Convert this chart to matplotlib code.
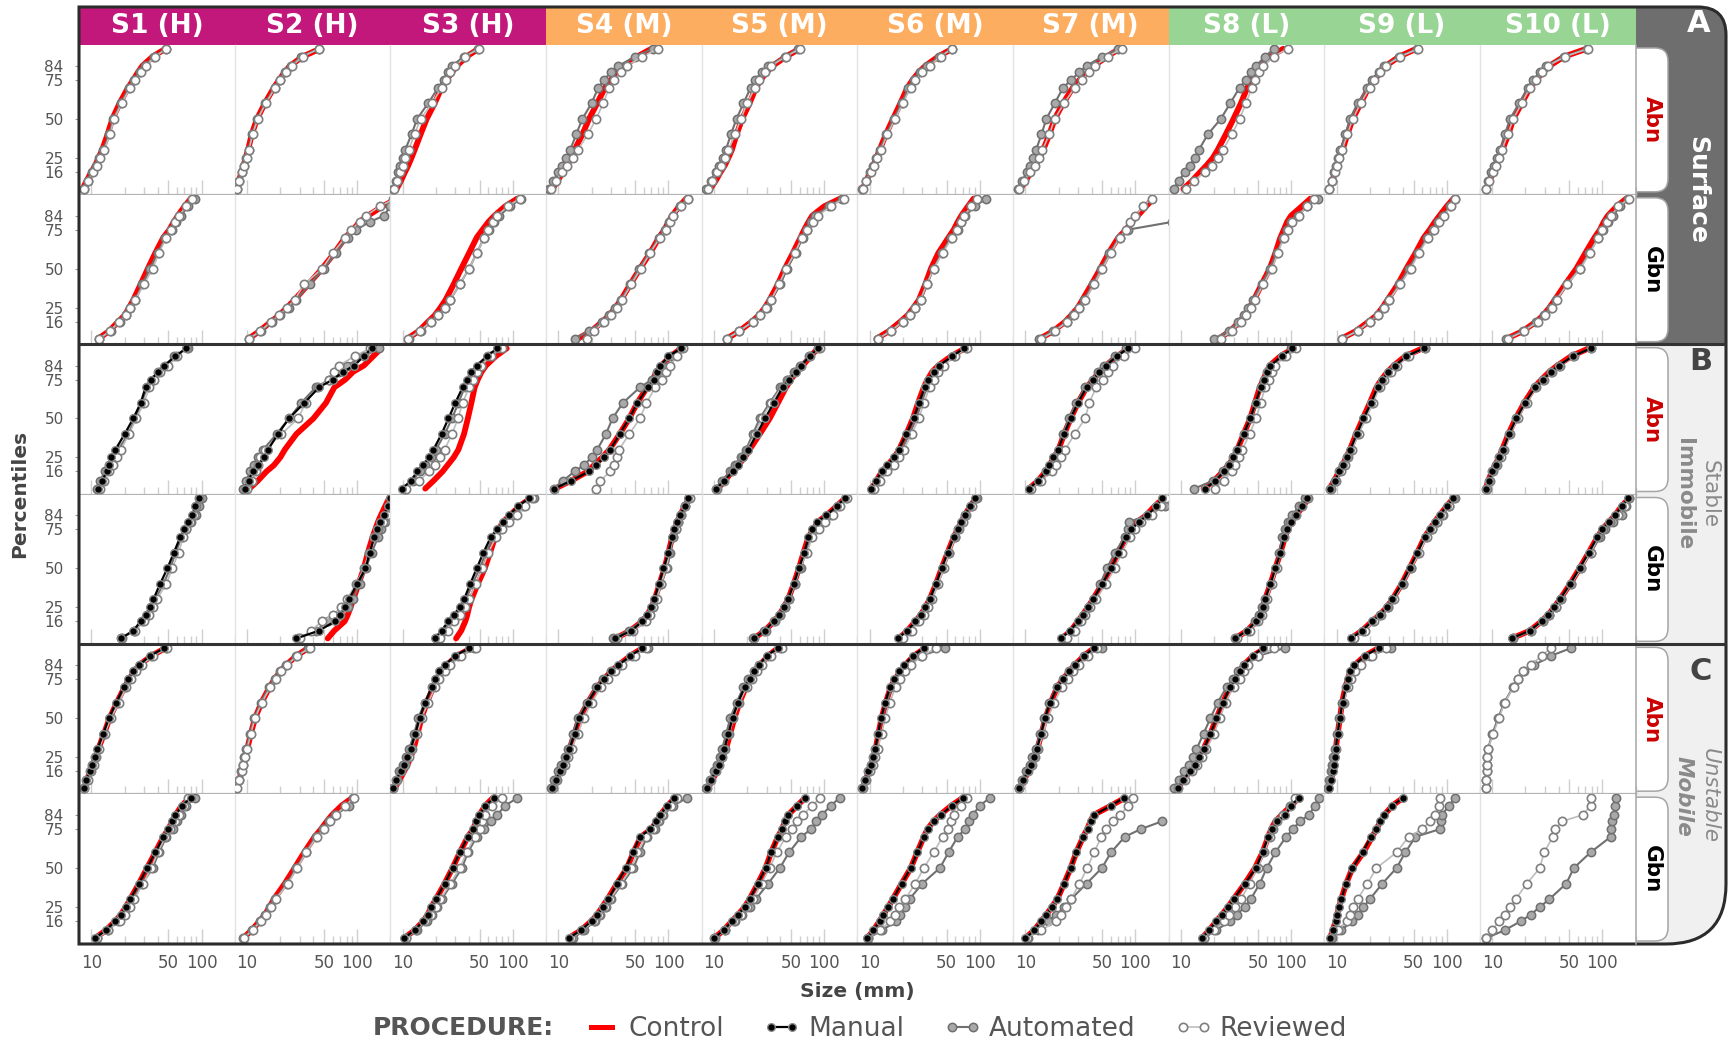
import numpy as np
import matplotlib.pyplot as plt
from matplotlib.patches import Rectangle, FancyBboxPatch, PathPatch
from matplotlib.path import Path
from matplotlib.lines import Line2D

plt.rcParams['font.family'] = ['DejaVu Sans']
nan = np.nan

# ---- data -----------------------------------------------------------------
percentiles = [5, 10, 16, 20, 25, 30, 40, 50, 60, 70, 75, 80, 84, 90, 95]
sites = ['S1 (H)', 'S2 (H)', 'S3 (H)', 'S4 (M)', 'S5 (M)', 'S6 (M)', 'S7 (M)',
         'S8 (L)', 'S9 (L)', 'S10 (L)']
site_colors = ['#c2187b'] * 3 + ['#fdad60'] * 4 + ['#98d494'] * 3
row_labels = ['Abn', 'Gbn', 'Abn', 'Gbn', 'Abn', 'Gbn']

# size (mm) at each percentile, one list per site (S1..S10)
surface_abn_control = [
    [8.3, 9.0, 10.0, 10.8, 11.6, 12.5, 14.0, 15.5, 18.0, 21.5, 24, 26.5, 29, 36, 47],
    [8.0, 8.4, 8.9, 9.3, 9.7, 10.2, 11.0, 12.3, 14.5, 17.5, 19.5, 22.0, 24.5, 32, 46],
    [8.8, 9.6, 10.5, 11.2, 12.0, 12.8, 14.5, 16.5, 19.5, 22.5, 25, 28, 31, 38, 49],
    [8.8, 9.8, 11.0, 12.0, 13.0, 14.0, 16.5, 19.0, 22.5, 26.5, 30, 35, 40, 52, 70],
    [9.2, 10.3, 11.5, 12.5, 13.5, 14.5, 16, 18, 21, 24, 26.5, 30, 34, 45, 60],
    [8.6, 9.3, 10.1, 10.8, 11.5, 12.3, 14.0, 16.3, 19.0, 22.0, 24.5, 28, 32, 42, 56],
    [9.0, 10.0, 11.3, 12.3, 13.5, 14.5, 16.5, 18.5, 22, 27, 31, 37, 42, 55, 72],
    [10.5, 12.5, 15.0, 17.0, 19.5, 21.5, 25.5, 30, 35, 40, 44, 48, 52, 65, 85],
    [8.6, 9.1, 9.7, 10.2, 10.7, 11.3, 12.5, 14.0, 16.5, 19.5, 22, 25, 28, 37, 53],
    [8.8, 9.4, 10.2, 10.8, 11.5, 12.3, 14.0, 15.5, 18.5, 22.0, 25, 29, 33, 45, 72],
]
surface_abn_automated = [
    [8.5, 9.2, 10.2, 11.0, 11.8, 12.8, 14.5, 15.8, 18.5, 22, 24.5, 27.5, 30.5, 37, 48],
    [8.1, 8.5, 9.0, 9.4, 9.8, 10.3, 11.1, 12.4, 14.6, 17.8, 19.8, 22.3, 25, 31, 45],
    [8.2, 8.6, 9.0, 9.5, 10.0, 10.5, 12.0, 13.5, 17.0, 21.0, 23.5, 25.5, 28, 36, 48],
    [8.2, 9.0, 10.0, 10.8, 11.8, 12.8, 14.5, 16.5, 20, 23, 26, 30, 35, 50, 72],
    [8.5, 9.3, 10.3, 11.0, 12.0, 12.8, 14.2, 16, 18.5, 21.5, 23.5, 27, 31, 44, 58],
    [8.5, 9.2, 10.0, 10.7, 11.4, 12.3, 14.2, 16.5, 19.5, 22.5, 25, 28.5, 33, 43, 56],
    [8.6, 9.4, 10.3, 11.0, 11.8, 12.5, 14.0, 15.5, 18.5, 22, 26, 31, 36, 50, 70],
    [8.6, 9.5, 10.9, 12.0, 13.3, 14.5, 17.5, 23, 28, 34, 39, 43, 48, 58, 70],
    [8.5, 9.0, 9.5, 9.9, 10.3, 10.8, 12.0, 13.2, 15.5, 19.0, 21, 24, 27, 37, 54],
    [8.7, 9.2, 9.8, 10.3, 11.0, 11.7, 13.0, 14.5, 17.5, 21.0, 23.5, 27, 31, 45, 72],
]
surface_abn_reviewed = [
    [8.6, 9.3, 10.3, 11.2, 12.0, 13.0, 14.8, 16.0, 18.8, 22.5, 25, 28, 31, 38, 48],
    [8.1, 8.5, 9.0, 9.4, 9.9, 10.4, 11.2, 12.5, 14.8, 18.0, 20.0, 22.5, 25.5, 32, 45],
    [8.3, 8.8, 9.4, 10.0, 10.5, 11.3, 12.8, 14.5, 18.5, 22.5, 24.5, 27, 30, 37, 49],
    [8.5, 9.5, 10.8, 12.0, 13.5, 15, 18.5, 22, 25.5, 29, 32, 37, 42, 58, 80],
    [8.8, 9.6, 10.6, 11.5, 12.5, 13.5, 15.5, 17.5, 20, 23.5, 25.5, 29, 33, 45, 60],
    [8.6, 9.3, 10.2, 10.9, 11.7, 12.6, 14.5, 17.0, 20.0, 23.5, 26, 30, 35, 44, 56],
    [8.8, 9.8, 11.0, 12.2, 13.2, 14.3, 16.5, 18.5, 22.5, 28, 33, 38, 43, 56, 75],
    [11.0, 13.0, 16.5, 19.0, 21.5, 24, 29, 34, 39, 44, 47, 51, 56, 70, 93],
    [8.6, 9.1, 9.7, 10.1, 10.6, 11.2, 12.5, 14.0, 16.5, 20.0, 22, 25, 28, 38, 55],
    [8.8, 9.4, 10.1, 10.7, 11.4, 12.2, 13.8, 15.5, 18.5, 22.0, 25, 28.5, 32, 46, 74],
]

surface_gbn_control = [
    [11.5, 14.5, 17.5, 20.0, 22.0, 24.0, 28.0, 32.5, 38, 45, 51, 56, 61, 70, 80],
    [10.3, 13, 16.5, 19.5, 23, 27, 36, 48, 62, 78, 92, 105, 125, 170, 230],
    [11.0, 14.0, 17.0, 19.5, 22.0, 24.5, 29, 34, 40, 47, 53, 60, 68, 85, 110],
    [15, 20, 25, 29, 33, 37, 45, 55, 68, 82, 92, 100, 108, 125, 145],
    [13, 17, 22, 25.5, 29, 32, 38, 44, 52, 61, 66, 72, 78, 100, 140],
    [11.5, 15, 19, 22, 25, 28, 32, 36, 42, 52, 58, 63, 68, 78, 88],
    [13.5, 18, 23, 26, 30, 33, 40, 48, 57, 70, 82, 92, 105, 125, 145],
    [22, 28, 34, 38, 42, 46, 54, 64, 72, 80, 86, 92, 100, 125, 150],
    [11, 15, 19.5, 23, 26, 29, 36, 43, 52, 62, 70, 78, 86, 100, 115],
    [13.5, 19, 25, 29, 33, 37, 46, 58, 70, 85, 95, 103, 112, 135, 165],
]
surface_gbn_automated = [
    [11.8, 15.0, 18.0, 20.5, 22.5, 25.0, 29.0, 34.0, 40, 47, 54, 59, 65, 75, 88],
    [10.5, 13.5, 17, 20, 24, 28, 37, 50, 64, 82, 98, 130, 175, 200, 210],
    [11.3, 14.5, 18.0, 21.0, 24.0, 27, 33, 40, 47, 55, 61, 67, 75, 95, 118],
    [14, 19, 25, 29, 33, 37, 45, 54, 67, 82, 93, 102, 110, 128, 150],
    [13, 17, 22.5, 26, 30, 33, 40, 46, 55, 64, 70, 76, 82, 110, 145],
    [12, 15.5, 20, 23, 26, 29, 33, 38, 45, 55, 63, 68, 74, 90, 115],
    [13.3, 18, 24, 27, 31, 34, 41, 49, 58, 72, 85, 215, nan, nan, nan],
    [20, 27, 33, 37, 41, 45, 54, 64, 74, 85, 92, 100, 115, 140, 175],
    [11.2, 15.5, 20, 23.5, 27, 30, 37, 45, 55, 66, 75, 84, 92, 108, 120],
    [13.2, 19, 25, 29.5, 34, 38, 48, 62, 76, 92, 102, 112, 125, 145, 170],
]
surface_gbn_reviewed = [
    [11.8, 14.8, 17.8, 20.5, 22.5, 25.0, 30.0, 36.0, 41, 48, 53, 58, 63, 72, 82],
    [10.4, 13.2, 16.5, 19.5, 23, 27, 33, 48, 60, 78, 88, 105, 120, 160, 220],
    [11.2, 14.3, 18.0, 21.0, 24.0, 27, 33, 40, 47, 55, 60, 66, 72, 90, 115],
    [18, 21, 26, 30, 34, 38, 46, 56, 68, 84, 95, 103, 110, 130, 150],
    [13, 17, 22.5, 26, 29.5, 33, 39, 45, 54, 63, 70, 80, 88, 115, 150],
    [12, 15.5, 20, 23, 26, 29, 33, 38, 46, 56, 62, 68, 72, 84, 95],
    [14, 18.5, 24, 27.5, 31, 35, 42, 50, 60, 72, 82, 90, 100, 118, 140],
    [23, 29, 35, 39, 43, 47, 56, 67, 76, 86, 93, 103, 118, 140, 160],
    [11.2, 15.5, 20, 23.5, 27, 30, 38, 47, 56, 68, 76, 85, 94, 110, 118],
    [14, 19.5, 26, 30, 34.5, 38.5, 48, 63, 77, 92, 100, 110, 120, 140, 175],
]

stable_abn_control = [
    None,
    [10.5, 12.5, 15, 17.5, 20, 22, 28, 40, 52, 62, 78, 92, 115, 140, 165],
    [16, 19, 23, 25.5, 29, 32, 36, 39, 42, 45, 48, 52, 57, 70, 88],
    [9.3, 13, 18.5, 21, 25, 29, 36, 44, 52, 64, 72, 78, 86, 105, 130],
    [10.8, 12.5, 14.6, 16.5, 19, 21, 26, 32, 38, 45, 50, 56, 64, 75, 88],
    [10.4, 11.5, 12.9, 14.5, 16.7, 18.5, 21.5, 24.7, 27.5, 31, 33.5, 37, 42, 55, 73],
    [10.8, 13, 15.3, 16.5, 18.2, 20, 22.5, 25.8, 30, 36, 41.4, 47, 54, 68, 87],
    [16, 20, 24, 27, 30, 32.5, 37, 42.5, 47, 52, 56, 60, 64, 80, 105],
    [8.6, 9.5, 10.5, 11.3, 12.2, 13.2, 15, 17.3, 20, 23, 25.5, 29, 33, 42, 60],
    [8.7, 9.2, 9.9, 10.6, 11.5, 12.3, 14, 16.3, 19.5, 24, 28, 33, 39, 52, 75],
]
stable_abn_manual = [
    [11.5, 12.5, 13.8, 14.5, 15.0, 16.5, 20, 24, 28, 31, 35, 40, 46, 58, 72],
    [9.5, 10.3, 11.2, 12.5, 14.2, 15.5, 19, 24, 33, 45, 60, 75, 94, 115, 135],
    [9.9, 11.8, 13.6, 15.2, 17.4, 19, 22.5, 26, 30, 35, 38, 42, 47, 58, 72],
    [9.2, 13, 19, 22, 26, 29.6, 36, 44, 52, 65, 74, 79, 84, 100, 130],
    [10.5, 12.3, 14.8, 16.5, 18.5, 20.5, 24.5, 29, 35, 42, 48, 55, 62, 74, 88],
    [10.2, 11.3, 12.9, 14.5, 16.5, 18.3, 21.5, 25, 28, 31.5, 34, 38, 43, 56, 72],
    [10.8, 13, 15.3, 16.5, 18, 19.8, 22.5, 25.8, 30, 36, 41.4, 47, 54, 68, 85],
    [16.5, 20.5, 24.6, 27, 29.5, 32, 37, 42.5, 47.5, 53, 57, 61, 65, 82, 103],
    [8.7, 9.6, 10.6, 11.4, 12.3, 13.3, 15.2, 17.5, 20.5, 23.5, 26, 29.5, 34, 43, 62],
    [8.8, 9.3, 10.0, 10.7, 11.6, 12.5, 14.2, 16.5, 19.8, 24.5, 29, 34, 40, 54, 78],
]
stable_abn_automated = [
    [11.3, 12.0, 13.2, 14.5, 16.0, 17.5, 21.5, 25, 28.5, 32, 36, 40, 47, 56, 76],
    [9.1, 9.8, 10.7, 11.6, 12.6, 14, 18.5, 24, 31, 42, 56, 68, 80, 115, 158],
    [10.3, 12.3, 14.2, 16, 18, 20, 24, 28, 32, 36.5, 40, 44, 49, 60, 73],
    [9.1, 11, 14, 17, 20, 22.5, 27, 31, 38.5, 55, 71, 78, 88, 105, 130],
    [10.3, 11.8, 14, 15.5, 17.5, 19.5, 22.5, 26, 32, 40, 46, 53, 60, 73, 88],
    [10.5, 11.8, 13.5, 15.5, 17.5, 19.5, 23, 26.5, 29.5, 33, 36, 40, 45, 58, 75],
    [11.0, 13.2, 15.5, 17, 18.5, 20, 22, 24.7, 29, 35, 41, 46, 52, 65, 82],
    [13.2, 19.5, 24, 27, 29.5, 32, 37, 43.5, 48.5, 53, 57, 61, 66, 85, 100],
    [8.7, 9.6, 10.6, 11.5, 12.4, 13.4, 15.4, 17.8, 21, 24, 26.5, 30, 34, 44, 63],
    [8.8, 9.3, 10.0, 10.7, 11.6, 12.5, 14.2, 16.5, 19.8, 24.5, 29, 34, 40, 54, 78],
]
stable_abn_reviewed = [
    [12.0, 13.0, 14.5, 15.8, 17.0, 18.5, 22, 25.5, 30, 33.5, 37, 42, 50, 60, 74],
    [10.0, 11.0, 12.1, 12.6, 13.0, 14.5, 20.5, 29, 34, 44, 56, 62, 68, 95, 130],
    [10.8, 14, 17.4, 19.5, 22, 24, 28, 31.7, 35, 40, 43.6, 47, 51, 63, 79],
    [22, 24, 29.6, 32, 34, 35.5, 44, 55, 63, 76, 88, 95, 104, 120, 135],
    [10.6, 12.3, 14.5, 16, 18, 20, 23.5, 27, 33, 41, 47, 54, 62, 75, 92],
    [11.0, 12.5, 14.5, 16.5, 18.5, 20.5, 24, 28, 31, 35, 38, 42, 47, 60, 76],
    [11.3, 14, 17.4, 19, 21, 23, 28, 35, 38, 44, 51, 56, 62, 78, 100],
    [20.3, 24.5, 28.8, 31, 33.5, 36, 42, 48, 53, 58, 63, 67, 71, 90, 112],
    [8.8, 9.8, 10.9, 11.8, 12.8, 13.8, 15.8, 18.5, 21.5, 24.5, 27, 31, 35, 45, 63],
    [8.9, 9.5, 10.2, 11.0, 11.9, 12.8, 14.6, 17, 20.5, 25, 29.5, 34.5, 41, 55, 78],
]

stable_gbn_control = [
    None,
    [54, 62, 77, 82, 87, 92, 103, 115, 125, 138, 146, 155, 164, 180, 195],
    [30.5, 34, 37, 38.5, 40, 42, 48, 55.6, 62, 69, 74, 82, 94, 115, 145],
    [33, 45, 58, 64, 70, 75, 83, 92, 100, 108, 114, 120, 128, 140, 155],
    [23, 29, 35, 39, 43, 47, 53, 59, 65, 72, 80, 88, 105, 130, 155],
    [18.5, 22, 26, 29, 32, 35, 40, 45, 51, 58, 63, 68, 73, 82, 92],
    [21.5, 26, 30, 33, 37, 41, 50, 60, 70, 82, 92, 105, 125, 150, 180],
    [31, 40, 48, 52, 55, 58, 65, 72, 80, 88, 93, 100, 112, 128, 145],
    [13.5, 17, 21, 24.5, 28.5, 32, 39, 46, 54, 63, 70, 78, 86, 100, 115],
    [15, 22, 28, 32, 36.5, 41, 51, 62, 75, 90, 100, 115, 130, 150, 175],
]
stable_gbn_manual = [
    [18.5, 24, 28, 31, 34, 36.5, 42, 49, 56, 64, 70, 76, 82, 88, 94],
    [28, 45, 63, 70, 77, 84, 100, 119, 130, 142, 150, 160, 175, 190, 200],
    [19.6, 22.5, 26, 29, 33, 36, 41, 47, 54, 63, 72, 82, 92, 112, 140],
    [33, 46, 58, 64, 69, 74, 82, 90, 100, 108, 113, 120, 128, 140, 152],
    [23, 29, 35, 39, 43, 47, 53, 59, 66, 72, 78, 86, 105, 130, 155],
    [18, 22, 26, 29, 32, 35, 40, 45, 51, 58, 63, 68, 73, 82, 90],
    [21, 25.5, 30, 33.5, 37, 41, 50, 60, 70, 82, 92, 108, 128, 155, 175],
    [31, 40, 48, 52, 55, 58, 65, 72, 80, 87, 92, 100, 110, 126, 140],
    [13.5, 17, 21, 24.5, 28.5, 32, 39, 46, 54, 63, 70, 78, 86, 100, 115],
    [15, 22, 28, 32, 36.5, 41, 51, 62, 75, 90, 100, 115, 130, 150, 172],
]
stable_gbn_automated = [
    [18.5, 24.5, 29, 32, 35, 38, 45, 52, 58, 66, 72, 80, 90, 95, 100],
    [29, 42, 54, 70, 83, 92, 105, 120, 135, 155, 165, 180, 195, 210, 220],
    [20, 23.5, 27, 30.5, 34, 37.5, 43, 50, 57, 66, 76, 88, 100, 125, 155],
    [31, 44, 57, 66, 72, 77, 85, 97, 104, 110, 116, 122, 130, 142, 154],
    [22.5, 28.5, 35, 39.5, 44, 48, 54, 61, 68, 76, 84, 95, 115, 135, 158],
    [19, 23, 27, 30, 33, 36, 41, 46, 52, 59, 64, 69, 74, 83, 95],
    [22, 27, 31, 34, 38, 42, 48, 55, 65, 80, 85, 88, 130, 185, 200],
    [31, 41, 47, 51, 54, 58, 66, 73, 78, 83, 88, 94, 102, 118, 135],
    [14, 17.5, 21.5, 25, 29, 32.5, 40, 47, 55, 65, 73, 82, 92, 105, 118],
    [15.5, 22.5, 29, 33, 37.5, 42, 52, 64, 78, 95, 105, 125, 150, 165, 175],
]
stable_gbn_reviewed = [
    [19, 25, 30, 33, 36, 39, 48, 54, 62, 68, 72, 78, 85, 90, 95],
    [30, 38, 48, 60, 71, 80, 98, 115, 128, 142, 155, 170, 185, 195, 205],
    [22, 25.5, 29.3, 33, 37, 40, 46, 53, 60, 70, 79, 92, 110, 130, 150],
    [34, 48, 62, 68, 73, 78, 86, 95, 102, 110, 116, 122, 130, 142, 156],
    [23, 29.5, 36, 40, 44.5, 48, 54, 60, 70, 78, 90, 102, 120, 140, 160],
    [20, 24, 28, 31, 34, 37, 42, 47, 53, 60, 65, 70, 75, 85, 92],
    [24, 28, 32, 35, 39, 44, 54, 65, 75, 90, 100, 112, 140, 170, 190],
    [32, 42, 50, 54, 57, 60, 67, 74, 80, 86, 90, 98, 110, 125, 142],
    [14.5, 18, 22, 25.5, 29.5, 33, 40, 47.5, 56, 66, 74, 82, 90, 104, 116],
    [15.5, 22.5, 29, 33, 37.5, 42, 52, 64, 78, 92, 102, 118, 140, 160, 175],
]

mobile_abn_control = [
    [8.6, 9.1, 9.7, 10.3, 10.9, 11.5, 13, 14.6, 17, 20, 22, 24.5, 27, 35, 47],
    [8.1, 8.5, 8.9, 9.2, 9.6, 10.0, 10.8, 11.8, 13.5, 16.0, 17.8, 20, 22.5, 28, 36],
    [8.4, 9.3, 10.3, 11.0, 11.8, 12.5, 13.6, 14.8, 16.5, 19, 20.5, 22.5, 25, 31, 42],
    [8.8, 9.5, 10.3, 11.0, 11.8, 12.6, 14.0, 15.5, 18.5, 22.5, 26, 30, 35, 45, 58],
    [8.8, 9.6, 10.6, 11.3, 12.0, 12.8, 14.0, 15.3, 17, 19.5, 21.5, 23.5, 26, 31, 38],
    [8.6, 9.2, 9.8, 10.3, 10.8, 11.3, 12.0, 12.8, 14.0, 15.5, 17, 19, 21, 25, 32],
    [8.9, 9.7, 10.6, 11.3, 12.0, 12.8, 14.0, 15.2, 17, 19.5, 22, 25, 28, 34, 42],
    [9.3, 10.5, 12.0, 13.3, 14.7, 16.0, 18.5, 21, 24, 28, 31, 34, 37, 45, 58],
    [8.6, 8.9, 9.2, 9.4, 9.6, 9.8, 10.2, 10.7, 11.2, 12.0, 12.6, 13.3, 14.5, 18, 24],
    None,
]
mobile_abn_manual = [
    [8.5, 9.0, 9.6, 10.2, 10.7, 11.3, 12.8, 14.4, 16.8, 19.7, 21.5, 24, 27, 34, 46],
    None,
    [8.1, 8.7, 9.6, 10.3, 11.0, 11.8, 13.0, 14.2, 16.0, 18.3, 19.8, 21.5, 24, 30, 40],
    [8.8, 9.5, 10.3, 11.0, 11.8, 12.6, 14.0, 15.5, 18.5, 22.5, 26, 30, 35, 45, 58],
    [8.6, 9.4, 10.3, 11.0, 11.7, 12.4, 13.5, 14.7, 16.5, 19, 21, 23, 25.5, 30, 38],
    [8.5, 9.1, 9.7, 10.2, 10.7, 11.2, 11.9, 12.7, 13.8, 15.3, 16.7, 18.5, 20.5, 24.5, 31],
    [8.8, 9.6, 10.5, 11.2, 11.9, 12.7, 13.9, 15.0, 16.8, 19.5, 22, 25, 28, 34, 42],
    [9.3, 10.5, 12.0, 13.3, 14.7, 16.0, 18.5, 21, 24, 28, 31, 34, 37, 45, 55],
    [8.6, 8.9, 9.2, 9.4, 9.6, 9.8, 10.2, 10.7, 11.3, 12.1, 12.7, 13.3, 14.5, 18, 24],
    None,
]
mobile_abn_automated = [
    [8.5, 9.0, 9.6, 10.2, 10.8, 11.4, 12.9, 14.6, 17, 20, 22, 24.5, 27.5, 35, 48],
    [8.0, 8.4, 8.8, 9.1, 9.4, 9.8, 10.6, 11.6, 13.3, 15.8, 17.8, 20, 22.5, 28, 36],
    [8.1, 8.6, 9.3, 10.0, 10.7, 11.4, 12.7, 13.8, 15.8, 18.5, 20, 22, 25, 32, 44],
    [8.6, 9.2, 10.0, 10.6, 11.4, 12.2, 13.5, 15.0, 18.0, 22.0, 25.5, 30, 36, 47, 65],
    [8.5, 9.2, 10.0, 10.6, 11.2, 11.8, 12.9, 14.0, 16.0, 18.5, 20.5, 23, 25.5, 31, 40],
    [8.5, 9.1, 9.7, 10.2, 10.7, 11.2, 12.0, 12.8, 14.2, 16.0, 17.8, 20, 23, 29, 48],
    [8.7, 9.4, 10.2, 10.9, 11.6, 12.4, 13.6, 14.8, 16.5, 19.3, 22, 25, 28, 34, 50],
    [8.6, 9.5, 10.7, 11.8, 12.8, 13.8, 16.0, 18.5, 21.5, 26, 29.5, 33, 37, 50, 88],
    [8.4, 8.6, 8.9, 9.1, 9.3, 9.6, 10.0, 10.5, 11.2, 12.2, 13.0, 14, 16, 20, 31],
    [8.8, 8.8, 8.9, 8.9, 9.0, 9.1, 10.0, 11.3, 12.8, 15.5, 17, 19.5, 24, 34, 52],
]
mobile_abn_reviewed = [
    [8.6, 9.2, 9.8, 10.5, 11.0, 11.7, 13.2, 15.0, 17.8, 20.8, 23, 25.5, 28.5, 36, 49],
    [8.1, 8.5, 8.9, 9.2, 9.6, 10.0, 10.8, 11.8, 13.6, 16.3, 18.2, 20.5, 23, 28.5, 37],
    [8.2, 8.8, 9.7, 10.5, 11.3, 12.0, 13.5, 14.8, 17.0, 19.8, 21.5, 24, 27, 34, 46],
    [8.9, 9.7, 10.6, 11.4, 12.3, 13.2, 15.0, 17.0, 20.0, 24.5, 28, 33, 38, 50, 62],
    [8.6, 9.4, 10.4, 11.1, 11.8, 12.5, 13.7, 15.0, 17.0, 19.8, 22, 24.5, 27, 33, 41],
    [8.6, 9.3, 10.0, 10.6, 11.2, 11.8, 12.8, 13.8, 15.2, 17.2, 19, 21, 23.5, 30, 40],
    [8.8, 9.6, 10.6, 11.4, 12.2, 13.0, 14.5, 16.0, 18.3, 21.5, 24.5, 27, 31, 37, 45],
    [9.4, 10.8, 12.5, 14.0, 15.5, 17.0, 20.0, 22.5, 25.5, 30, 34, 37, 41, 50, 70],
    [8.4, 8.7, 9.0, 9.2, 9.5, 9.8, 10.3, 10.8, 11.6, 12.7, 13.6, 14.7, 16.5, 21, 28],
    [8.8, 8.8, 8.9, 8.9, 9.0, 9.1, 10.2, 11.5, 12.9, 15.7, 17, 19, 22.3, 28, 34],
]

mobile_gbn_control = [
    [10.8, 13.5, 16.5, 18.5, 20.5, 22.5, 27, 32, 38, 45, 50, 54, 58, 66, 78],
    [9.2, 11, 13, 14.5, 16, 17.5, 22, 27, 33, 41, 47, 53, 59, 72, 90],
    [10.3, 12.8, 15.4, 16.8, 18.2, 20, 24, 28.3, 33, 39, 43.6, 46.5, 49.6, 56, 66],
    [12.4, 16, 20, 22.5, 25, 28, 34, 42, 48, 56, 70, 78, 84, 98, 114],
    [10, 12.2, 14.6, 16.5, 19, 21, 25, 29.4, 33, 38, 41.5, 44, 47, 57, 67],
    [9.5, 10.8, 12.3, 13.3, 14.7, 16.2, 19.5, 23.6, 27, 31, 33.5, 38, 43.4, 55, 70],
    [10, 12, 14, 15.5, 17.4, 19.5, 22.5, 25.8, 29, 33.5, 36.5, 39, 41.6, 60, 80],
    [15.5, 18, 21, 23.5, 26.7, 30, 38, 47, 55, 62, 66, 72, 82, 100, 117],
    [8.7, 9.2, 9.8, 10.1, 10.5, 11, 12.2, 13.9, 17.5, 21, 23, 25, 27, 32, 40],
    None,
]
mobile_gbn_manual = [
    [10.8, 13.5, 16.5, 18.5, 20.5, 22.5, 27, 32, 38, 45, 50, 54, 58, 66, 80],
    None,
    [10.3, 12.8, 15.4, 16.8, 18.2, 20, 24, 28.3, 33, 39, 43.6, 46.5, 49.6, 56, 68],
    [12.4, 16, 20, 22.5, 25.5, 28.5, 34, 41, 47.5, 55, 68, 77, 84, 97, 112],
    [10, 12.2, 14.6, 16.5, 19, 21, 25, 29.4, 33, 38, 41.5, 44, 47, 57, 67],
    [9.5, 10.8, 12.3, 13.3, 14.7, 16.2, 19.5, 23.6, 27, 31, 34, 38.5, 44, 56, 70],
    [10, 12, 14, 15.5, 17.4, 19.5, 22.5, 25.8, 29, 33.5, 37, 39.5, 42, 60, 78],
    [15.5, 18, 21, 23.5, 26.7, 30, 38, 48, 55, 62, 67, 75, 88, 100, 117],
    [8.7, 9.2, 9.8, 10.1, 10.5, 11, 12.2, 13.9, 17.2, 20.5, 23, 25, 27, 32, 40],
    None,
]
mobile_gbn_automated = [
    [11.2, 14, 17.5, 19.5, 22, 24, 29, 36, 41, 48, 55, 60, 65, 72, 88],
    [9.2, 11, 13.1, 14.6, 16.2, 18, 23, 28, 34, 42, 49, 56, 63, 85, 92],
    [10.6, 13.5, 16.5, 18.5, 20.5, 22.5, 28, 34.5, 39, 47, 55, 63, 72, 85, 110],
    [13.5, 17, 21.5, 24, 27, 30, 38, 48, 55, 64, 75, 82, 90, 110, 148],
    [10, 12.5, 15.5, 18, 21, 24, 31, 39.6, 48, 62, 76, 85, 95, 115, 138],
    [9.7, 13, 17.4, 19, 20.8, 23, 30, 43.4, 52, 63, 73, 80, 86, 100, 123],
    [10.5, 13, 16, 19, 22.5, 26, 36, 49.6, 60, 80, 112, 175, nan, nan, nan],
    [16, 21, 27.7, 32, 38, 43, 52, 60, 72, 90, 104, 120, 145, 165, 178],
    [9, 11, 13.9, 15.5, 17.5, 20, 26, 35, 42, 52, 87, 88, 90, 105, 118],
    [8.8, 12.9, 18.3, 22.3, 27, 33, 47, 55, 78, 119, 120, 123, 127, 130, 134],
]
mobile_gbn_reviewed = [
    [11.3, 14.2, 18, 20, 22.5, 24.5, 29.5, 35, 40, 47, 52, 57, 62, 70, 76],
    [9.3, 11.2, 13.3, 14.8, 16.4, 18.2, 23.5, 28.5, 34.5, 43, 50, 57, 64, 78, 93],
    [10.6, 13.2, 16, 18.2, 20, 22, 27, 33, 38, 45, 50, 53, 56, 65, 80],
    [13, 16.5, 21, 23.5, 26.5, 29.5, 37, 46, 52, 62, 73, 80, 88, 105, 120],
    [10.1, 12.5, 15.2, 17.5, 20, 22.5, 27, 32, 37, 45, 51, 57, 64, 78, 92],
    [9.6, 12.5, 15.3, 17, 18.5, 21, 26, 31, 38, 46, 51, 55, 58.6, 68, 76],
    [10.3, 14, 19, 21, 23.6, 26, 31, 36.5, 42, 49, 53.5, 62, 73, 85, 95],
    [16, 20, 24.7, 27.5, 31, 35, 42, 50, 57, 64, 68, 75, 85, 98, 108],
    [8.8, 10.3, 12.3, 13.2, 14, 15.5, 19, 23, 35, 45, 60, 70, 79, 85, 87],
    [8.8, 9.9, 11.6, 12.9, 14.6, 16.3, 20.6, 27, 29.5, 35.5, 37, 43, 66, 78, 78],
]

# rows of the grid: (control, manual, automated, reviewed)
panel_rows = [
    (surface_abn_control, None, surface_abn_automated, surface_abn_reviewed),
    (surface_gbn_control, None, surface_gbn_automated, surface_gbn_reviewed),
    (stable_abn_control, stable_abn_manual, stable_abn_automated, stable_abn_reviewed),
    (stable_gbn_control, stable_gbn_manual, stable_gbn_automated, stable_gbn_reviewed),
    (mobile_abn_control, mobile_abn_manual, mobile_abn_automated, mobile_abn_reviewed),
    (mobile_gbn_control, mobile_gbn_manual, mobile_gbn_automated, mobile_gbn_reviewed),
]

# ---- styles -----------------------------------------------------------------
control_style = dict(color='#ff0000', lw=4.2, solid_capstyle='round', zorder=2)
automated_style = dict(color='#707070', lw=1.5, marker='o', ms=6, mfc='#a9a9a9',
                       mec='#6f6f6f', mew=1.1, zorder=3)
reviewed_style = dict(color='#bdbdbd', lw=1.2, marker='o', ms=6, mfc='white',
                      mec='#7f7f7f', mew=1.2, zorder=4)
manual_style = dict(color='black', lw=1.6, marker='o', ms=5.5, mfc='black',
                    mec='#8a8a8a', mew=1.0, zorder=5)

W, H = 1732, 1046
X0, X1 = 79, 1635.5
Y0, Y1 = 45, 944
cw = (X1 - X0) / 10
rh = (Y1 - Y0) / 6
txt_gray = '#555555'

fig = plt.figure(figsize=(W / 100, H / 100), dpi=100)

bg = fig.add_axes([0, 0, 1, 1], zorder=0)
bg.set_xlim(0, W)
bg.set_ylim(H, 0)
bg.set_axis_off()
fg = fig.add_axes([0, 0, 1, 1], zorder=10)
fg.set_xlim(0, W)
fg.set_ylim(H, 0)
fg.set_axis_off()


def side_path(x0, y0, x1, y1, rt, rb):
    verts = [(x0, y1), (x0, y0), (x1 - rt, y0), (x1, y0), (x1, y0 + rt),
             (x1, y1 - rb), (x1, y1), (x1 - rb, y1), (x0, y1)]
    codes = [Path.MOVETO, Path.LINETO, Path.LINETO, Path.CURVE3, Path.CURVE3,
             Path.LINETO, Path.CURVE3, Path.CURVE3, Path.CLOSEPOLY]
    return Path(verts, codes)


# right-hand group bands
RX = 1726
bg.add_patch(PathPatch(side_path(X1, 344, RX, Y1, 0, 60), fc='#f0f0f0', ec='none'))
bg.add_patch(PathPatch(side_path(X1, 7, RX, 344, 28, 0), fc='#6e6e6e', ec='none'))

# header strip
for c in range(10):
    bg.add_patch(Rectangle((X0 + c * cw, 7), cw + 0.6, Y0 - 7, fc=site_colors[c], ec='none'))
    bg.text(X0 + (c + 0.5) * cw, 26, sites[c], color='white', fontsize=19,
            fontweight='bold', ha='center', va='center')

# row tabs (Abn / Gbn)
for r in range(6):
    top = Y0 + r * rh
    bg.add_patch(FancyBboxPatch((1610, top + 3), 1668 - 1610, rh - 6,
                                boxstyle='round,pad=0,rounding_size=13',
                                fc='white', ec='#a5a5a5', lw=1.1, zorder=2))
    lab_col = '#cc0000' if row_labels[r] == 'Abn' else 'black'
    bg.text(1652, top + rh / 2, row_labels[r], color=lab_col, fontsize=15.5,
            fontweight='bold', rotation=-90, ha='center', va='center', zorder=3)

# group labels
bg.text(1699, 24, 'A', color='white', fontsize=22, fontweight='bold', ha='center', va='center')
bg.text(1697, 190, 'Surface', color='white', fontsize=18, fontweight='bold',
        rotation=-90, ha='center', va='center')
bg.text(1701, 362, 'B', color='#444444', fontsize=22, fontweight='bold', ha='center', va='center')
bg.text(1710, 494, 'Stable', color='#8a8a8a', fontsize=15.5, rotation=-90,
        ha='center', va='center')
bg.text(1684, 494, 'Immobile', color='#8a8a8a', fontsize=15.5, fontweight='bold',
        rotation=-90, ha='center', va='center')
bg.text(1701, 672, 'C', color='#444444', fontsize=22, fontweight='bold', ha='center', va='center')
bg.text(1710, 796, 'Unstable', color='#8a8a8a', fontsize=15.5, style='italic',
        rotation=-90, ha='center', va='center')
bg.text(1684, 796, 'Mobile', color='#8a8a8a', fontsize=15.5, style='italic',
        fontweight='bold', rotation=-90, ha='center', va='center')

# ---- panels -----------------------------------------------------------------
for r in range(6):
    ctrl, man, auto, rev = panel_rows[r]
    for c in range(10):
        ax = fig.add_axes([(X0 + c * cw) / W, 1 - (Y0 + (r + 1) * rh) / H, cw / W, rh / H],
                          zorder=1)
        if ctrl is not None and ctrl[c] is not None:
            ax.plot(ctrl[c], percentiles, **control_style)
        if auto is not None and auto[c] is not None:
            ax.plot(auto[c], percentiles, **automated_style)
        if rev is not None and rev[c] is not None:
            ax.plot(rev[c], percentiles, **reviewed_style)
        if man is not None and man[c] is not None:
            ax.plot(man[c], percentiles, **manual_style)

        ax.set_xscale('log')
        ax.set_xlim(7.7, 200)
        ax.set_ylim(1.2, 97.4)
        ax.set_xticks([10, 50, 100])
        ax.set_xticks([20, 30, 40, 60, 70, 80, 90, 200], minor=True)
        ax.set_xticklabels(['10', '50', '100'])
        ax.xaxis.set_minor_formatter(plt.NullFormatter())
        ax.tick_params(axis='x', which='major', direction='in', length=11, width=1,
                       color='#cfcfcf', labelsize=12, labelcolor=txt_gray, pad=7,
                       labelbottom=(r == 5))
        ax.tick_params(axis='x', which='minor', direction='in', length=6, width=1,
                       color='#cfcfcf')
        ax.set_yticks([16, 25, 50, 75, 84])
        ax.set_yticklabels(['16', '25', '50', '75', '84'])
        ax.tick_params(axis='y', length=3 if c == 0 else 0, color='#999999',
                       labelsize=11, labelcolor=txt_gray, pad=8, labelleft=(c == 0))

        for s in ['top', 'right']:
            ax.spines[s].set_visible(False)
        if c == 0:
            ax.spines['left'].set_visible(False)
        else:
            ax.spines['left'].set_color('#e2e2e2')
            ax.spines['left'].set_linewidth(1)
        if r in (0, 2, 4):
            ax.spines['bottom'].set_color('#b3b3b3')
            ax.spines['bottom'].set_linewidth(1.6)
        else:
            ax.spines['bottom'].set_visible(False)

# ---- frame and separators ---------------------------------------------------
fg.plot([X1, X1], [Y0, Y1], color='#a5a5a5', lw=1.1)
for y in (344, 644):
    fg.plot([X0, RX], [y, y], color='#333333', lw=2.2, solid_capstyle='butt')
frame = side_path(X0, 7, RX, Y1, 28, 60)
fg.add_patch(PathPatch(frame, fc='none', ec='#2b2b2b', lw=2.2))

# ---- axis titles and legend -------------------------------------------------
fig.text(20 / W, 1 - 494 / H, 'Percentiles', rotation=90, fontsize=14.5,
         fontweight='bold', color='#444444', ha='center', va='center')
fig.text((X0 + X1) / 2 / W, 1 - 991 / H, 'Size (mm)', fontsize=14.5,
         fontweight='bold', color='#444444', ha='center', va='center')
fig.text(373 / W, 1 - 1028 / H, 'PROCEDURE:', fontsize=18, fontweight='bold',
         color='#555555', ha='left', va='center')

handles = [
    Line2D([], [], color='#ff0000', lw=3.6),
    Line2D([], [], **{k: v for k, v in manual_style.items() if k != 'zorder'}),
    Line2D([], [], **{k: v for k, v in automated_style.items() if k != 'zorder'}),
    Line2D([], [], **{k: v for k, v in reviewed_style.items() if k != 'zorder'}),
]
fig.legend(handles, ['Control', 'Manual', 'Automated', 'Reviewed'], ncol=4,
           loc='center left', bbox_to_anchor=(570 / W, 1 - 1029 / H), frameon=False,
           fontsize=19, handlelength=1.4, handletextpad=0.3, columnspacing=1.5,
           numpoints=2, labelcolor='#555555', borderpad=0)

fig.savefig('out.png', dpi=100)
